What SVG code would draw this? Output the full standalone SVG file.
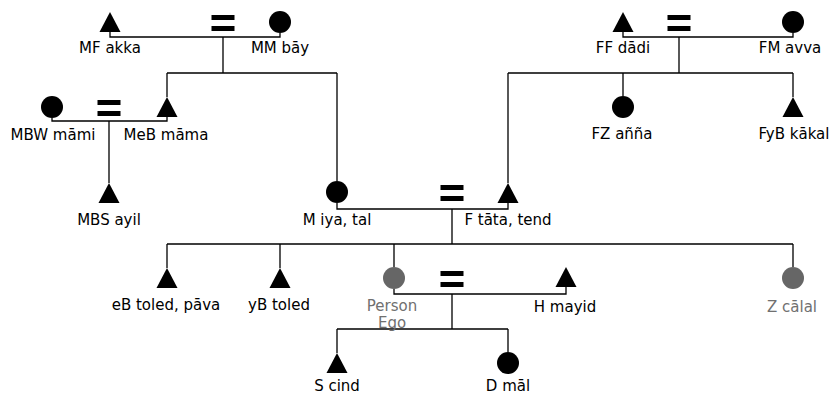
<svg xmlns="http://www.w3.org/2000/svg" width="831" height="395" viewBox="0 0 831 395">
<defs>
<style>
.t{font-family:"DejaVu Sans","Liberation Sans",sans-serif;font-size:15px;fill:#000;text-anchor:middle}
.g{fill:#707070}
.m{fill:#000}
.ego{fill:#666}
.ln{stroke:#000;stroke-width:1.3;fill:none}
.eq{fill:#000}
</style>
<path id="tri" d="M0,-10 L10.5,10 L-10.5,10 Z"/>
<g id="eqs"><rect x="-11.5" y="-7" width="23" height="5"/><rect x="-11.5" y="4" width="23" height="5"/></g>
</defs>
<rect width="831" height="395" fill="#fff"/>
<g id="connectors" class="ln">
<path d="M110,32V37H280V33M223,37V73M167,73H337M167,73V97M337,73V181"/>
<path d="M623,32V37H793V33M679,37V73M508,73H793M623,73V96M793,73V97M508,73V183"/>
<path d="M52,118V121H167V117M109,121V183"/>
<path d="M337,203V209H508V202M452,209V244M167,244H793M167,244V268M280,244V268M394,244V267M793,244V267"/>
<path d="M394,289V294H566V287M452,294V329M337,329H508M337,329V353M508,329V352"/>
</g>
<g id="equals" class="eq">
<use href="#eqs" x="223" y="22"/>
<use href="#eqs" x="679" y="22"/>
<use href="#eqs" x="109" y="107"/>
<use href="#eqs" x="452" y="192"/>
<use href="#eqs" x="452" y="278"/>
</g>
<g id="MF"><use href="#tri" x="110" y="22" class="m"/><text class="t" x="110" y="53">MF akka</text></g>
<g id="MM"><circle cx="280" cy="22" r="11" class="m"/><text class="t" x="280" y="53">MM bāy</text></g>
<g id="FF"><use href="#tri" x="623" y="22" class="m"/><text class="t" x="623" y="53">FF dādi</text></g>
<g id="FM"><circle cx="793" cy="22" r="11" class="m"/><text class="t" x="790" y="53">FM avva</text></g>
<g id="MBW"><circle cx="52" cy="107" r="11" class="m"/><text class="t" x="53" y="140">MBW māmi</text></g>
<g id="MeB"><use href="#tri" x="167" y="107" class="m"/><text class="t" x="166" y="140">MeB māma</text></g>
<g id="FZ"><circle cx="623" cy="107" r="11" class="m"/><text class="t" x="622" y="139">FZ añña</text></g>
<g id="FyB"><use href="#tri" x="793" y="107" class="m"/><text class="t" x="794" y="139">FyB kākal</text></g>
<g id="MBS"><use href="#tri" x="109" y="193" class="m"/><text class="t" x="109" y="225">MBS ayil</text></g>
<g id="M"><circle cx="337" cy="192" r="11" class="m"/><text class="t" x="337" y="225">M iya, tal</text></g>
<g id="F"><use href="#tri" x="508" y="193" class="m"/><text class="t" x="508" y="225">F tāta, tend</text></g>
<g id="eB"><use href="#tri" x="167" y="278" class="m"/><text class="t" x="166" y="310">eB toled, pāva</text></g>
<g id="yB"><use href="#tri" x="280" y="278" class="m"/><text class="t" x="279" y="310">yB toled</text></g>
<g id="Ego"><circle cx="394" cy="278" r="11" class="ego"/><text class="t g" x="392" y="311">Person</text><text class="t g" x="392" y="328">Ego</text></g>
<g id="H"><use href="#tri" x="566" y="277" class="m"/><text class="t" x="565" y="312">H mayid</text></g>
<g id="Z"><circle cx="793" cy="278" r="11" class="ego"/><text class="t g" x="792" y="312">Z cālal</text></g>
<g id="S"><use href="#tri" x="337" y="363" class="m"/><text class="t" x="337" y="391">S cind</text></g>
<g id="D"><circle cx="508" cy="363" r="11" class="m"/><text class="t" x="508" y="391">D māl</text></g>
</svg>
